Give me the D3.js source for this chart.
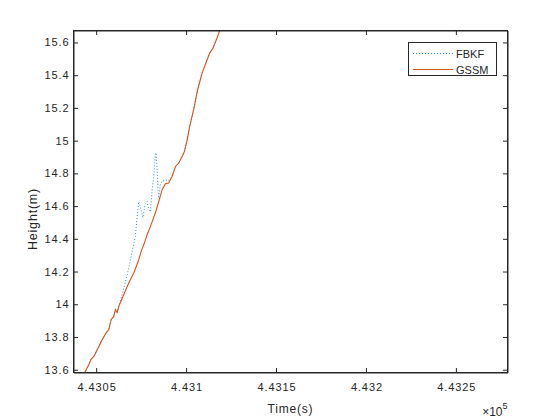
<!DOCTYPE html>
<html>
<head>
<meta charset="utf-8">
<script src="https://d3js.org/d3.v7.min.js"></script>
<style>
  body { margin: 0; background: #fff; }
  text { font-family: "Liberation Sans", Arial, sans-serif; fill: #262626; }
</style>
</head>
<body>
<svg id="chart" width="560" height="420"></svg>
<script>
// values (time in s, height in m)
var timeGSSM = [443041.0, 443043.5, 443045.9, 443047.2, 443048.7, 443050.6, 443053.3, 443055.7, 443057.0,
  443058.3, 443059.8, 443060.7, 443061.7, 443062.6, 443065.3, 443068.1, 443070.9, 443073.7, 443075.0,
  443076.8, 443078.3, 443080.2, 443082.9, 443084.8, 443086.7, 443088.5, 443090.3, 443092.2, 443094.1,
  443095.9, 443097.8, 443099.1, 443100.6, 443102.0, 443104.2, 443106.4, 443107.9, 443108.9, 443111.7,
  443113.1, 443115.0, 443117.2, 443118.7, 443120.2];
var heightGSSM = [13.55, 13.580, 13.631, 13.665, 13.681, 13.722, 13.783, 13.828, 13.844,
  13.906, 13.926, 13.967, 13.950, 13.987, 14.058, 14.130, 14.191, 14.272, 14.323,
  14.374, 14.425, 14.476, 14.558, 14.628, 14.700, 14.737, 14.741, 14.781, 14.842,
  14.863, 14.903, 14.934, 15.005, 15.087, 15.189, 15.311, 15.372, 15.413, 15.494,
  15.535, 15.566, 15.627, 15.673, 15.726];

var timeFBKF = [443041.0, 443043.5, 443045.9, 443047.2, 443048.7, 443050.6, 443053.3, 443055.7, 443057.0,
  443058.3, 443059.8, 443060.7, 443061.7, 443062.6, 443065.2, 443067.9, 443070.6, 443071.8, 443072.9,
  443073.7, 443074.3, 443075.2, 443076.0, 443077.1, 443078.3, 443079.3, 443080.2, 443081.1, 443082.0,
  443082.9, 443083.3, 443083.9, 443084.4, 443084.8, 443085.7, 443086.7, 443088.5, 443090.3,
  443092.2, 443094.1, 443095.9, 443097.8, 443099.1, 443100.6, 443102.0, 443104.2, 443106.4, 443107.9,
  443108.9, 443111.7, 443113.1, 443115.0, 443117.2, 443118.7, 443120.2];
var heightFBKF = [13.55, 13.580, 13.631, 13.665, 13.681, 13.722, 13.783, 13.828, 13.844,
  13.906, 13.926, 13.967, 13.950, 13.987, 14.089, 14.211, 14.353, 14.415, 14.547,
  14.628, 14.608, 14.565, 14.529, 14.608, 14.628, 14.578, 14.565, 14.700, 14.781,
  14.914, 14.926, 14.822, 14.700, 14.649, 14.730, 14.755, 14.761, 14.755,
  14.781, 14.842, 14.863, 14.903, 14.934, 15.005, 15.087, 15.189, 15.311, 15.372,
  15.413, 15.494, 15.535, 15.566, 15.627, 15.673, 15.726];

var xTicks = [443050, 443100, 443150, 443200, 443250];
var xTickLabels = ["4.4305", "4.431", "4.4315", "4.432", "4.4325"];
var yTicks = [13.6, 13.8, 14, 14.2, 14.4, 14.6, 14.8, 15, 15.2, 15.4, 15.6];
var yTickLabels = ["13.6", "13.8", "14", "14.2", "14.4", "14.6", "14.8", "15", "15.2", "15.4", "15.6"];
var seriesNames = ["FBKF", "GSSM"];

var L = 73.5, R = 507.5, T = 30.5, B = 372.5;
var axisColor = "#262626";

var svg = d3.select("#chart");

var x = d3.scaleLinear().domain([443037.4, 443278.7]).range([L, R]);
var y = d3.scaleLinear().domain([13.583, 15.673]).range([B, T]);

svg.append("defs").append("clipPath").attr("id", "plotclip")
  .append("rect").attr("x", L).attr("y", T).attr("width", R - L).attr("height", B - T);

var line = d3.line()
  .x(function (d) { return x(d[0]); })
  .y(function (d) { return y(d[1]); });

var plot = svg.append("g").attr("clip-path", "url(#plotclip)");

plot.append("path")
  .datum(d3.zip(timeFBKF, heightFBKF))
  .attr("d", line)
  .attr("fill", "none")
  .attr("stroke", "#2a8fd6")
  .attr("stroke-width", 1)
  .attr("stroke-dasharray", "1,2");

plot.append("path")
  .datum(d3.zip(timeGSSM, heightGSSM))
  .attr("d", line)
  .attr("fill", "none")
  .attr("stroke", "#D95319")
  .attr("stroke-width", 1.1);

// axes: bottom/left with labels, top/right ticks only
var tl = 4.5;
var xAxis = d3.axisBottom(x).tickValues(xTicks).tickSizeInner(-tl).tickSizeOuter(0)
  .tickFormat(function (d, i) { return xTickLabels[i]; }).tickPadding(11);
var yAxis = d3.axisLeft(y).tickValues(yTicks).tickSizeInner(-tl).tickSizeOuter(0)
  .tickFormat(function (d, i) { return yTickLabels[i]; }).tickPadding(4);

var gx = svg.append("g").attr("transform", "translate(0," + B + ")").call(xAxis);
var gy = svg.append("g").attr("transform", "translate(" + L + ",0)").call(yAxis);
var gxt = svg.append("g").attr("transform", "translate(0," + T + ")")
  .call(d3.axisTop(x).tickValues(xTicks).tickSizeInner(-tl).tickSizeOuter(0).tickFormat(""));
var gyr = svg.append("g").attr("transform", "translate(" + R + ",0)")
  .call(d3.axisRight(y).tickValues(yTicks).tickSizeInner(-tl).tickSizeOuter(0).tickFormat(""));

[gx, gy, gxt, gyr].forEach(function (g) {
  g.select(".domain").attr("stroke", axisColor);
  g.selectAll(".tick line").attr("stroke", axisColor);
  g.selectAll(".tick text").attr("fill", axisColor)
    .style("font-family", "'Liberation Sans', Arial, sans-serif")
    .style("font-size", "11px").style("letter-spacing", "0.9px");
});
gx.selectAll(".tick text").attr("dx", "0.45px");

svg.append("rect").attr("x", L).attr("y", T).attr("width", R - L).attr("height", B - T)
  .attr("fill", "none").attr("stroke", axisColor).attr("stroke-width", 1);

// axis titles
svg.append("text").attr("x", (L + R) / 2).attr("y", 413)
  .attr("text-anchor", "middle").style("font-size", "12px").style("letter-spacing", "0.8px")
  .text("Time(s)");
svg.append("text").attr("transform", "translate(37,219) rotate(-90)")
  .attr("text-anchor", "middle").style("font-size", "12.5px").style("letter-spacing", "0.8px")
  .text("Height(m)");

// exponent
var ex = svg.append("text").attr("x", R).attr("y", 416).attr("text-anchor", "end")
  .style("font-size", "12px");
ex.append("tspan").text("\u00d710");
ex.append("tspan").attr("dy", -7).style("font-size", "9px").text("5");

// legend
var lg = svg.append("g");
lg.append("rect").attr("x", 408.5).attr("y", 42.5).attr("width", 88).attr("height", 33)
  .attr("fill", "#fff").attr("stroke", axisColor).attr("stroke-width", 1);
var legendColors = ["#2a8fd6", "#D95319"];
var legendDash = ["1,2", null];
seriesNames.forEach(function (name, i) {
  var ly = 53.5 + i * 16;
  lg.append("line").attr("x1", 413).attr("x2", 453).attr("y1", ly).attr("y2", ly)
    .attr("stroke", legendColors[i]).attr("stroke-width", 1)
    .attr("stroke-dasharray", legendDash[i]);
  lg.append("text").attr("x", 456).attr("y", ly + 4)
    .style("font-size", "11px").text(name);
});
</script>
</body>
</html>
